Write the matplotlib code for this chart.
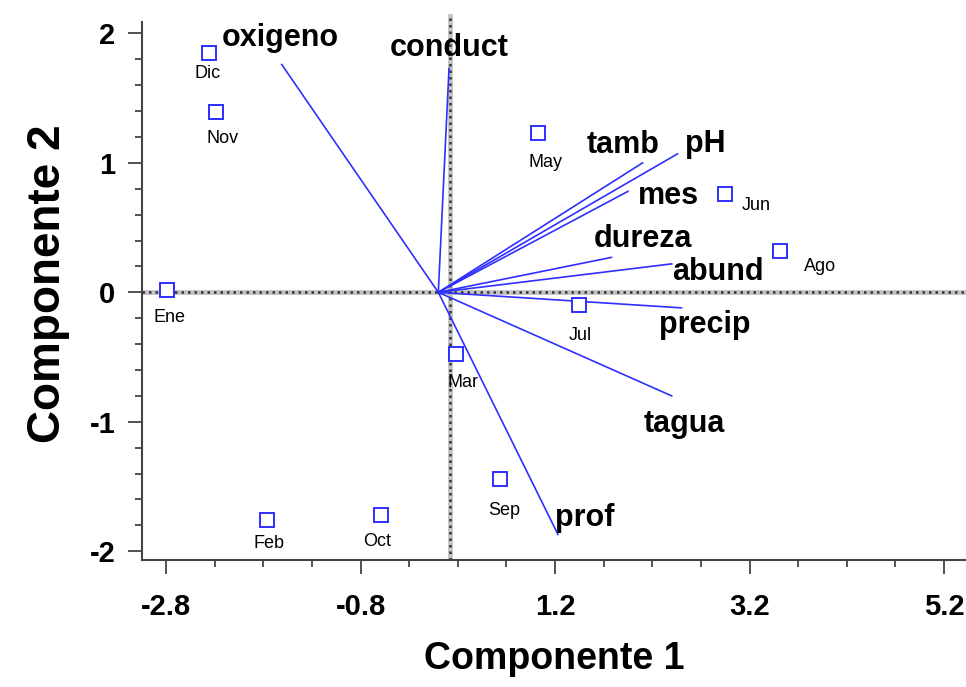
import numpy as np
import matplotlib
matplotlib.use("Agg")
import matplotlib.pyplot as plt

plt.rcParams['font.family'] = ['Liberation Sans', 'DejaVu Sans']

# variable loadings (arrows)
variables = ['oxigeno', 'conduct', 'tamb', 'pH', 'mes', 'dureza', 'abund', 'precip', 'tagua', 'prof']
var_x = [-1.61, 0.11, 2.10, 2.46, 1.95, 1.78, 2.40, 2.50, 2.40, 1.23]
var_y = [1.76, 1.73, 1.00, 1.07, 0.78, 0.27, 0.22, -0.12, -0.80, -1.87]

# month scores (squares)
months = ['Dic', 'Nov', 'Ene', 'May', 'Jun', 'Ago', 'Jul', 'Mar', 'Sep', 'Feb', 'Oct']
month_x = [-2.36, -2.29, -2.79, 1.03, 2.95, 3.51, 1.45, 0.18, 0.63, -1.76, -0.59]
month_y = [1.85, 1.39, 0.02, 1.23, 0.76, 0.32, -0.10, -0.48, -1.44, -1.76, -1.72]

x_major = [-2.8, -0.8, 1.2, 3.2, 5.2]
y_major = [-2, -1, 0, 1, 2]

# label offsets (points)
var_off = {'oxigeno': (-1, 19), 'conduct': (0, 15), 'tamb': (-14, 13), 'pH': (20, 7),
           'mes': (29, -3), 'dureza': (23, 13), 'abund': (33, -6), 'precip': (17, -12),
           'tagua': (9, -20), 'prof': (19, 12)}
mon_off = {'Dic': (-1, -15), 'Nov': (5, -19), 'Ene': (2, -20), 'May': (5, -21),
           'Jun': (22, -8), 'Ago': (29, -11), 'Jul': (1, -22), 'Mar': (5, -20),
           'Sep': (3, -23), 'Feb': (1, -17), 'Oct': (-3, -19)}

blue = '#2f2fff'

fig = plt.figure(figsize=(9.66, 6.87), dpi=100)
ax = fig.add_axes([0.147, 0.185, 0.853, 0.804])
ax.set_xlim(-3.047, 5.426)
ax.set_ylim(-2.067, 2.2)

# reference lines through the centre
for lw, col, ls in [(3.5, '#c4c4c4', '-'), (1.8, '#333333', (0, (1.0, 1.6)))]:
    ax.axhline(0, color=col, lw=lw, ls=ls, zorder=1)
    ax.axvline(0.12, ymax=0.985, color=col, lw=lw, ls=ls, zorder=1)

for name, vx, vy in zip(variables, var_x, var_y):
    ax.plot([0, vx], [0, vy], color=blue, lw=1.2, zorder=2)
    ax.annotate(name, (vx, vy), xytext=var_off[name], textcoords='offset points',
                ha='center', va='center', fontsize=22, fontweight='bold')

ax.plot(month_x, month_y, ls='none', marker='s', ms=9.5, mfc='white', mec=blue, mew=1.4, zorder=3)
for name, mx, my in zip(months, month_x, month_y):
    ax.annotate(name, (mx, my), xytext=mon_off[name], textcoords='offset points',
                ha='center', va='center', fontsize=13)

ax.spines['top'].set_visible(False)
ax.spines['right'].set_visible(False)
ax.spines['left'].set_bounds(-2.067, 2.09)
for s in ['left', 'bottom']:
    ax.spines[s].set_color('#444444')
    ax.spines[s].set_linewidth(1.5)

ax.set_xticks(x_major)
ax.set_xticks(np.arange(-2.8, 5.3, 0.5), minor=True)
ax.set_yticks(y_major)
ax.set_yticks(np.arange(-2.0, 2.01, 0.2), minor=True)
ax.set_xticklabels([f'{v:.1f}' for v in x_major])
ax.set_yticklabels([str(v) for v in y_major])
ax.tick_params(which='major', direction='out', length=10, width=1.3, color='#444444', labelsize=21)
ax.tick_params(which='minor', direction='out', length=5, width=1.3, color='#444444')
ax.tick_params(axis='x', which='major', pad=14)
ax.tick_params(axis='y', which='major', pad=9)
for lab in ax.get_xticklabels() + ax.get_yticklabels():
    lab.set_fontweight('bold')

ax.set_xlabel('Componente 1', fontsize=27, fontweight='bold', labelpad=14)
ax.set_ylabel('Componente 2', fontsize=33, fontweight='bold', labelpad=14)

plt.savefig('out.png', dpi=100)
